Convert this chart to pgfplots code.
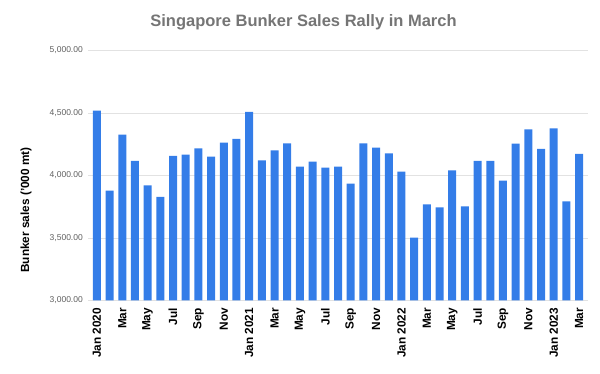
\documentclass[border=0pt]{standalone}
\usepackage{pgfplots}
\pgfplotsset{compat=1.18}
\usepackage{fontspec}
\setmainfont{Liberation Sans}
\definecolor{barblue}{RGB}{52,125,232}
\definecolor{titlegray}{RGB}{117,117,117}
\definecolor{tickgray}{RGB}{95,95,95}
\definecolor{gridgray}{RGB}{226,226,226}
\begin{document}
\begin{tikzpicture}[x=1pt,y=1pt]
\path[use as bounding box] (0,0) rectangle (600,374);
\begin{axis}[
  at={(88pt,73.5pt)}, anchor=south west,
  scale only axis, width=500pt, height=250pt,
  xmin=-0.7, xmax=38.7, ymin=3000, ymax=5000,
  ybar, bar width=8pt,
  axis line style={draw=none}, tick style={draw=none},
  ymajorgrids, grid style={gridgray, line width=0.8pt},
  ytick={3000,3500,4000,4500,5000},
  /pgf/number format/.cd, fixed, fixed zerofill, precision=2, 1000 sep={,}, assume math mode=true,
  /pgfplots/.cd,
  yticklabel style={font=\fontsize{8.5}{10}\selectfont, text=tickgray, inner sep=0pt, xshift=-5pt},
  xtick={0,2,...,38},
  xticklabels={Jan 2020,Mar,May,Jul,Sep,Nov,Jan 2021,Mar,May,Jul,Sep,Nov,Jan 2022,Mar,May,Jul,Sep,Nov,Jan 2023,Mar},
  xticklabel style={rotate=90, anchor=east, inner sep=0pt, xshift=-3pt, font=\bfseries\fontsize{11.8}{12}\selectfont, text=black},
]
\addplot[fill=barblue, draw=none] coordinates {
(0,4518) (1,3878) (2,4326) (3,4116) (4,3921) (5,3828) (6,4156) (7,4166) (8,4217) (9,4150) (10,4262) (11,4292)
(12,4508) (13,4121) (14,4201) (15,4257) (16,4070) (17,4110) (18,4063) (19,4070) (20,3934) (21,4257) (22,4222) (23,4177)
(24,4031) (25,3503) (26,3769) (27,3745) (28,4041) (29,3753) (30,4116) (31,4116) (32,3959) (33,4255) (34,4369) (35,4212)
(36,4377) (37,3793) (38,4172)
};
\end{axis}
\node[anchor=base, text=titlegray, font=\bfseries\fontsize{16.5}{18}\selectfont, inner sep=0pt] at (303.5,347) {Singapore Bunker Sales Rally in March};
\node[rotate=90, font=\bfseries\fontsize{11.8}{12}\selectfont, inner sep=0pt] at (26,164) {Bunker sales ('000 mt)};
\end{tikzpicture}
\end{document}
